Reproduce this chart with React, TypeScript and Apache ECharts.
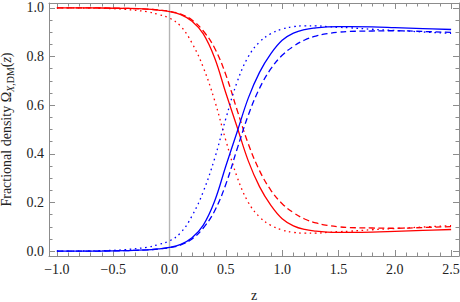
import React, { useEffect, useRef } from "react";
import * as echarts from "echarts";

const zs = [-1.0, -0.8, -0.6, -0.4, -0.2, -0.1, 0, 0.1, 0.2, 0.3, 0.4, 0.5, 0.6, 0.7, 0.8, 0.9, 1.0, 1.1, 1.2, 1.3, 1.4, 1.5, 1.6, 1.8, 2.0, 2.25, 2.5];

const redSolid = [1.0, 1.0, 0.9995, 0.998, 0.995, 0.991, 0.985, 0.972, 0.945, 0.893, 0.795, 0.65, 0.51, 0.37, 0.264, 0.188, 0.133, 0.104, 0.089, 0.082, 0.078, 0.077, 0.077, 0.078, 0.081, 0.085, 0.089];
const redDashed = [1.0, 1.0, 0.9995, 0.998, 0.995, 0.991, 0.986, 0.974, 0.95, 0.905, 0.835, 0.725, 0.58, 0.44, 0.33, 0.25, 0.195, 0.158, 0.132, 0.116, 0.106, 0.1, 0.097, 0.095, 0.094, 0.097, 0.101];
const redDotted = [1.0, 0.9995, 0.998, 0.994, 0.984, 0.973, 0.958, 0.924, 0.855, 0.755, 0.62, 0.455, 0.305, 0.2, 0.14, 0.106, 0.087, 0.077, 0.074, 0.074, 0.077, 0.08, 0.082, 0.088, 0.093, 0.099, 0.105];

const blueSolid = [0.0, 0.0, 0.0005, 0.002, 0.005, 0.009, 0.015, 0.028, 0.055, 0.107, 0.205, 0.35, 0.49, 0.63, 0.736, 0.812, 0.867, 0.896, 0.911, 0.918, 0.922, 0.923, 0.923, 0.922, 0.919, 0.915, 0.911];
const blueDashed = [0.0, 0.0, 0.0005, 0.002, 0.005, 0.009, 0.014, 0.026, 0.05, 0.095, 0.165, 0.275, 0.42, 0.56, 0.67, 0.75, 0.805, 0.842, 0.868, 0.884, 0.894, 0.9, 0.903, 0.905, 0.906, 0.903, 0.899];
const blueDotted = [0.0, 0.0005, 0.002, 0.006, 0.016, 0.027, 0.042, 0.076, 0.145, 0.245, 0.38, 0.545, 0.695, 0.8, 0.86, 0.894, 0.913, 0.923, 0.926, 0.926, 0.923, 0.92, 0.918, 0.912, 0.907, 0.901, 0.895];

const xMajor = [-1.0, -0.5, 0.0, 0.5, 1.0, 1.5, 2.0, 2.5];
const xMinor = [-0.9, -0.8, -0.7, -0.6, -0.4, -0.3, -0.2, -0.1, 0.1, 0.2, 0.3, 0.4, 0.6, 0.7, 0.8, 0.9, 1.1, 1.2, 1.3, 1.4, 1.6, 1.7, 1.8, 1.9, 2.1, 2.2, 2.3, 2.4];
const yMajor = [0.0, 0.2, 0.4, 0.6, 0.8, 1.0];
const yMinor = [0.05, 0.1, 0.15, 0.25, 0.3, 0.35, 0.45, 0.5, 0.55, 0.65, 0.7, 0.75, 0.85, 0.9, 0.95];

const X_MIN = -1.07;
const X_MAX = 2.57;
const Y_MIN = -0.02;
const Y_MAX = 1.02;

const FRAME = "#8c8c8c";
const FONT = "Liberation Serif";
const TXT = "#222";

function fmt(v: number) {
  const s = Math.abs(v).toFixed(1);
  return "{d|" + (v < -1e-9 ? "\u2212" + s : s) + "}";
}

function axisBase(isX: boolean, position: string, ticks: number[], len: number, showLine: boolean, labels: boolean, extra: any = {}) {
  return {
    type: "value",
    position,
    min: isX ? X_MIN : Y_MIN,
    max: isX ? X_MAX : Y_MAX,
    splitLine: { show: false },
    axisLine: { show: showLine, onZero: false, lineStyle: { color: FRAME, width: 1 } },
    axisTick: { show: true, inside: true, length: len, customValues: ticks, lineStyle: { color: FRAME, width: 1 } },
    axisLabel: labels
      ? {
          show: true,
          customValues: ticks,
          formatter: fmt,
          color: TXT,
          fontFamily: FONT,
          fontSize: 14,
          margin: isX ? 6 : 5,
          rich: { d: { fontFamily: FONT, fontSize: 14, color: TXT } },
        }
      : { show: false },
    ...extra,
  };
}

function mk(vals: number[]) {
  return zs.map((z, i) => [z, vals[i]]);
}

function lineSeries(name: string, vals: number[], color: string, type: any) {
  return {
    name,
    type: "line",
    data: mk(vals),
    showSymbol: false,
    symbol: "none",
    smooth: 0.4,
    lineStyle: { color, width: 1.3, type, cap: "butt" },
    z: 3,
  };
}

export default function App() {
  const ref = useRef<HTMLDivElement>(null);
  useEffect(() => {
    if (!ref.current) return;
    const chart = echarts.init(ref.current, null, { renderer: "svg" });
    const dashed = [6, 3.5];
    const dotted = [1.6, 3.6];
    chart.setOption({
      animation: false,
      backgroundColor: "#ffffff",
      textStyle: { fontFamily: FONT, color: TXT },
      grid: { left: 49, right: 1, top: 3, bottom: 46, containLabel: false, outerBoundsMode: "none" },
      xAxis: [
        axisBase(true, "bottom", xMajor, 6, true, true, {
          name: "{n|z}",
          nameLocation: "middle",
          nameGap: 32,
          nameTextStyle: { fontFamily: FONT, fontSize: 14, color: TXT, rich: { n: { fontFamily: FONT, fontSize: 14, color: TXT } } },
        }),
        axisBase(true, "bottom", xMinor, 3.5, false, false),
        axisBase(true, "top", xMajor, 6, true, false),
        axisBase(true, "top", xMinor, 3.5, false, false),
      ],
      yAxis: [
        axisBase(false, "left", yMajor, 6, true, true, {
          name: "{a|Fractional density \u03A9}{s|X}{t|,DM}{a|(}{i|z}{a|)}",
          nameLocation: "middle",
          nameGap: 30,
          nameRotate: 90,
          nameTextStyle: {
            fontFamily: FONT,
            fontSize: 14,
            color: TXT,
            rich: {
              a: { fontFamily: FONT, fontSize: 14, color: TXT, lineHeight: 18, verticalAlign: "middle" },
              i: { fontFamily: FONT, fontSize: 14, color: TXT, fontStyle: "italic", lineHeight: 18, verticalAlign: "middle" },
              s: { fontFamily: FONT, fontSize: 10, color: TXT, fontStyle: "italic", lineHeight: 10, verticalAlign: "bottom" },
              t: { fontFamily: FONT, fontSize: 10, color: TXT, lineHeight: 10, verticalAlign: "bottom" },
            },
          },
        }),
        axisBase(false, "left", yMinor, 3.5, false, false),
        axisBase(false, "right", yMajor, 6, true, false),
        axisBase(false, "right", yMinor, 3.5, false, false),
      ],
      series: [
        {
          name: "z0",
          type: "line",
          data: [
            [0, Y_MIN],
            [0, Y_MAX],
          ],
          showSymbol: false,
          symbol: "none",
          lineStyle: { color: "#b4b4b4", width: 1.4 },
          z: 1,
        },
        lineSeries("red solid", redSolid, "#ff0000", "solid"),
        lineSeries("red dashed", redDashed, "#ff0000", dashed),
        lineSeries("red dotted", redDotted, "#ff0000", dotted),
        lineSeries("blue solid", blueSolid, "#0000ff", "solid"),
        lineSeries("blue dashed", blueDashed, "#0000ff", dashed),
        lineSeries("blue dotted", blueDotted, "#0000ff", dotted),
      ],
    });
    return () => chart.dispose();
  }, []);
  return <div ref={ref} style={{ position: "fixed", left: 0, top: 0, width: 460, height: 302 }} />;
}
